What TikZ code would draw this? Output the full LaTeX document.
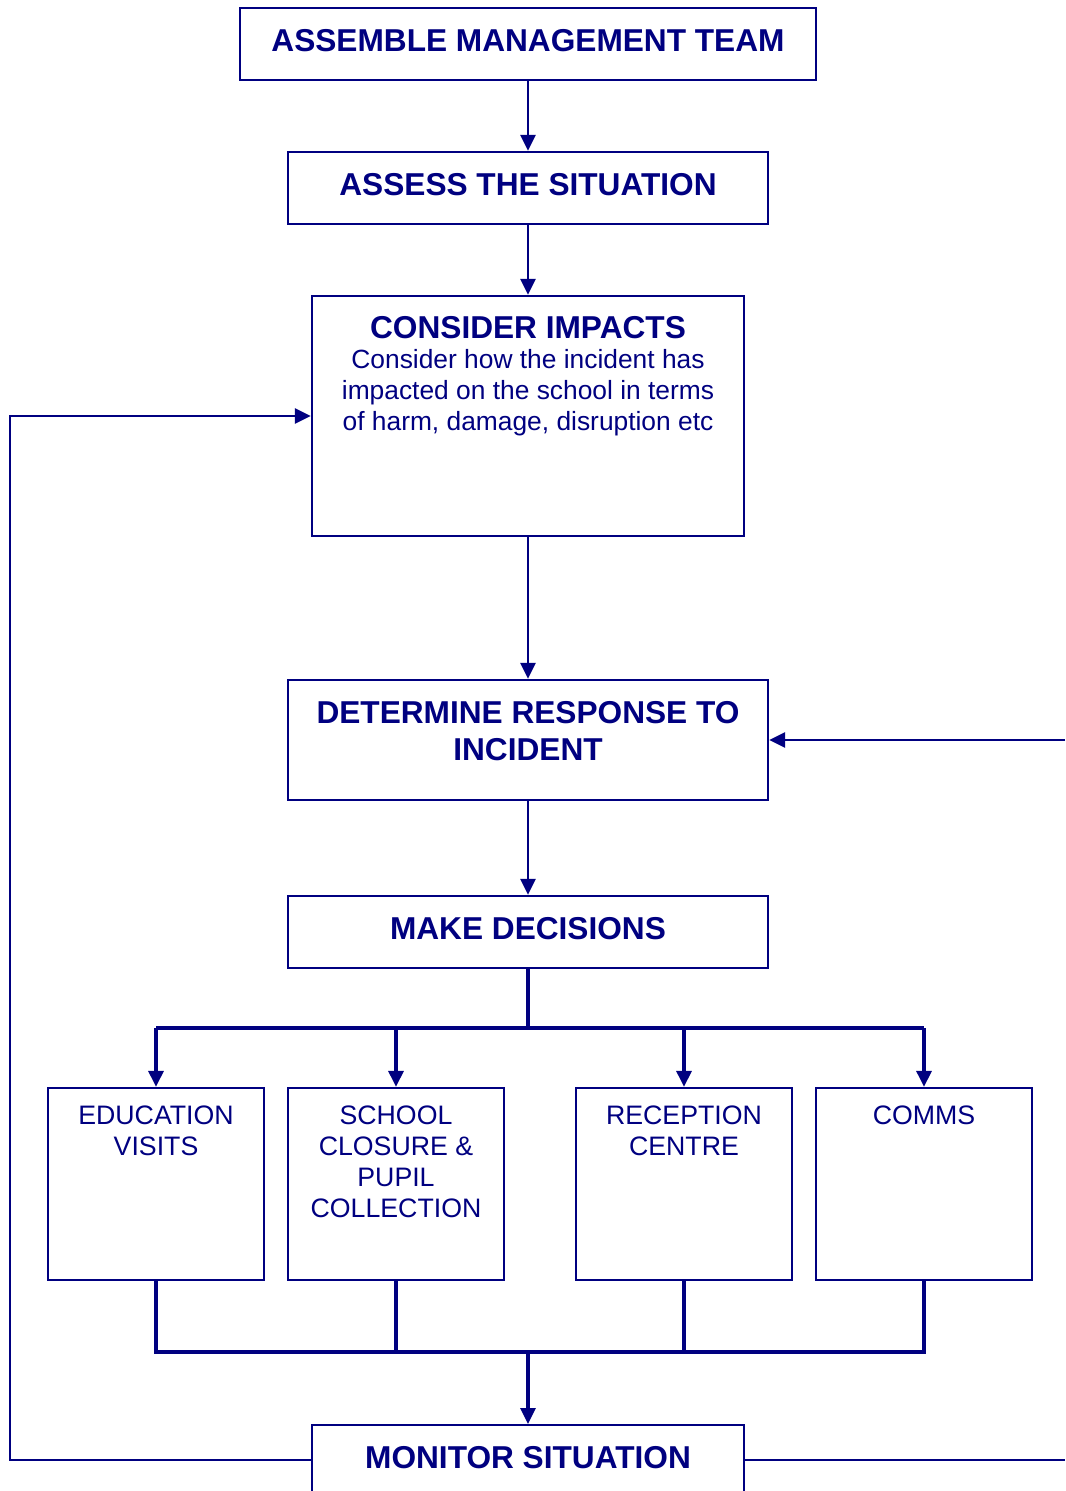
\documentclass[tikz,border=0pt]{standalone}
\usepackage{fontspec}
\setmainfont{Liberation Sans}
\usepackage{tikz}
\usetikzlibrary{arrows.meta,positioning}
\definecolor{navyblue}{RGB}{0,0,128}

\begin{document}
\begin{tikzpicture}[every node/.style={text=navyblue}, >={Triangle[length=3.2mm,width=3mm]},
	box/.style={draw=navyblue, line width=1.3pt, minimum width=#1, minimum height=1.44cm, text depth=0.15cm, font=\fontsize{18}{21.5}\selectfont\bfseries, align=center},
	subbox/.style={draw=navyblue, line width=1.3pt, minimum width=4.32cm, minimum height=3.84cm},
	subtext/.style={font=\fontsize{15.2}{17.6}\selectfont, align=center, anchor=north, yshift=-0.26cm},
	link/.style={draw=navyblue, line width=1.4pt},
	branch/.style={draw=navyblue, line width=1.8pt}]
	\useasboundingbox (0,0) rectangle (21.3,-29.82);
	\clip (0,0) rectangle (21.3,-29.82);
	% main column
	\node[box=11.52cm] (assemble) at (10.56,-0.88) {ASSEMBLE MANAGEMENT TEAM};
	\node[box=9.6cm] (assess) at (10.56,-3.76) {ASSESS THE SITUATION};
	\node[box=8.64cm, minimum height=4.8cm] (impacts) at (10.56,-8.32) {};
	\node[anchor=north, align=center, font=\fontsize{15}{17.4}\selectfont] (impactstext) at (10.56,-6.2)
		{{\fontsize{18}{20.5}\selectfont\bfseries CONSIDER IMPACTS}\\Consider how the incident has\\impacted on the school in terms\\of harm, damage, disruption etc};
	\node[box=9.6cm, minimum height=2.4cm, text depth=0.36cm] (determine) at (10.56,-14.8) {DETERMINE RESPONSE TO\\INCIDENT};
	\node[box=9.6cm] (decide) at (10.56,-18.64) {MAKE DECISIONS};
	% the four areas
	\node[subbox] (visits) at (3.12,-23.68) {};
	\node[subbox] (closure) at (7.92,-23.68) {};
	\node[subbox] (reception) at (13.68,-23.68) {};
	\node[subbox] (comms) at (18.48,-23.68) {};
	\node[subtext] (visitstext) at (visits.north) {EDUCATION\\VISITS};
	\node[subtext] (closuretext) at (closure.north) {SCHOOL\\CLOSURE \&\\PUPIL\\COLLECTION};
	\node[subtext] (receptiontext) at (reception.north) {RECEPTION\\CENTRE};
	\node[subtext] (commstext) at (comms.north) {COMMS};
	\node[box=8.64cm, minimum height=2cm, anchor=north, text depth=0.7cm] (monitor) at (10.56,-28.48) {MONITOR SITUATION};
	% connectors
	\coordinate (split) at (10.56,-20.56);
	\coordinate (merge) at (10.56,-27.04);
	\coordinate (leftturn) at (0.2,-29.2);
	\coordinate (rightend) at (21.3,-29.2);
	\coordinate (rightin) at (21.3,-14.8);
	\draw[link,->] (assemble) -- (assess);
	\draw[link,->] (assess) -- (impacts);
	\draw[link,->] (impacts) -- (determine);
	\draw[link,->] (determine) -- (decide);
	\draw[branch] (decide) -- (split);
	\draw[branch] (visits.north |- split) -- (comms.north |- split);
	\foreach \n in {visits,closure,reception,comms}
		\draw[branch,->] (\n.north |- split) -- (\n.north);
	\draw[branch] (visits.south) -- (visits.south |- merge) -- (comms.south |- merge) -- (comms.south);
	\draw[branch] (closure.south) -- (closure.south |- merge);
	\draw[branch] (reception.south) -- (reception.south |- merge);
	\draw[branch,->] (merge) -- (monitor.north);
	\draw[link,->] (monitor.west |- leftturn) -- (leftturn) |- (impacts.west);
	\draw[link] (monitor.east |- rightend) -- (rightend);
	\draw[link,->] (rightin) -- (determine.east);
\end{tikzpicture}
\end{document}
